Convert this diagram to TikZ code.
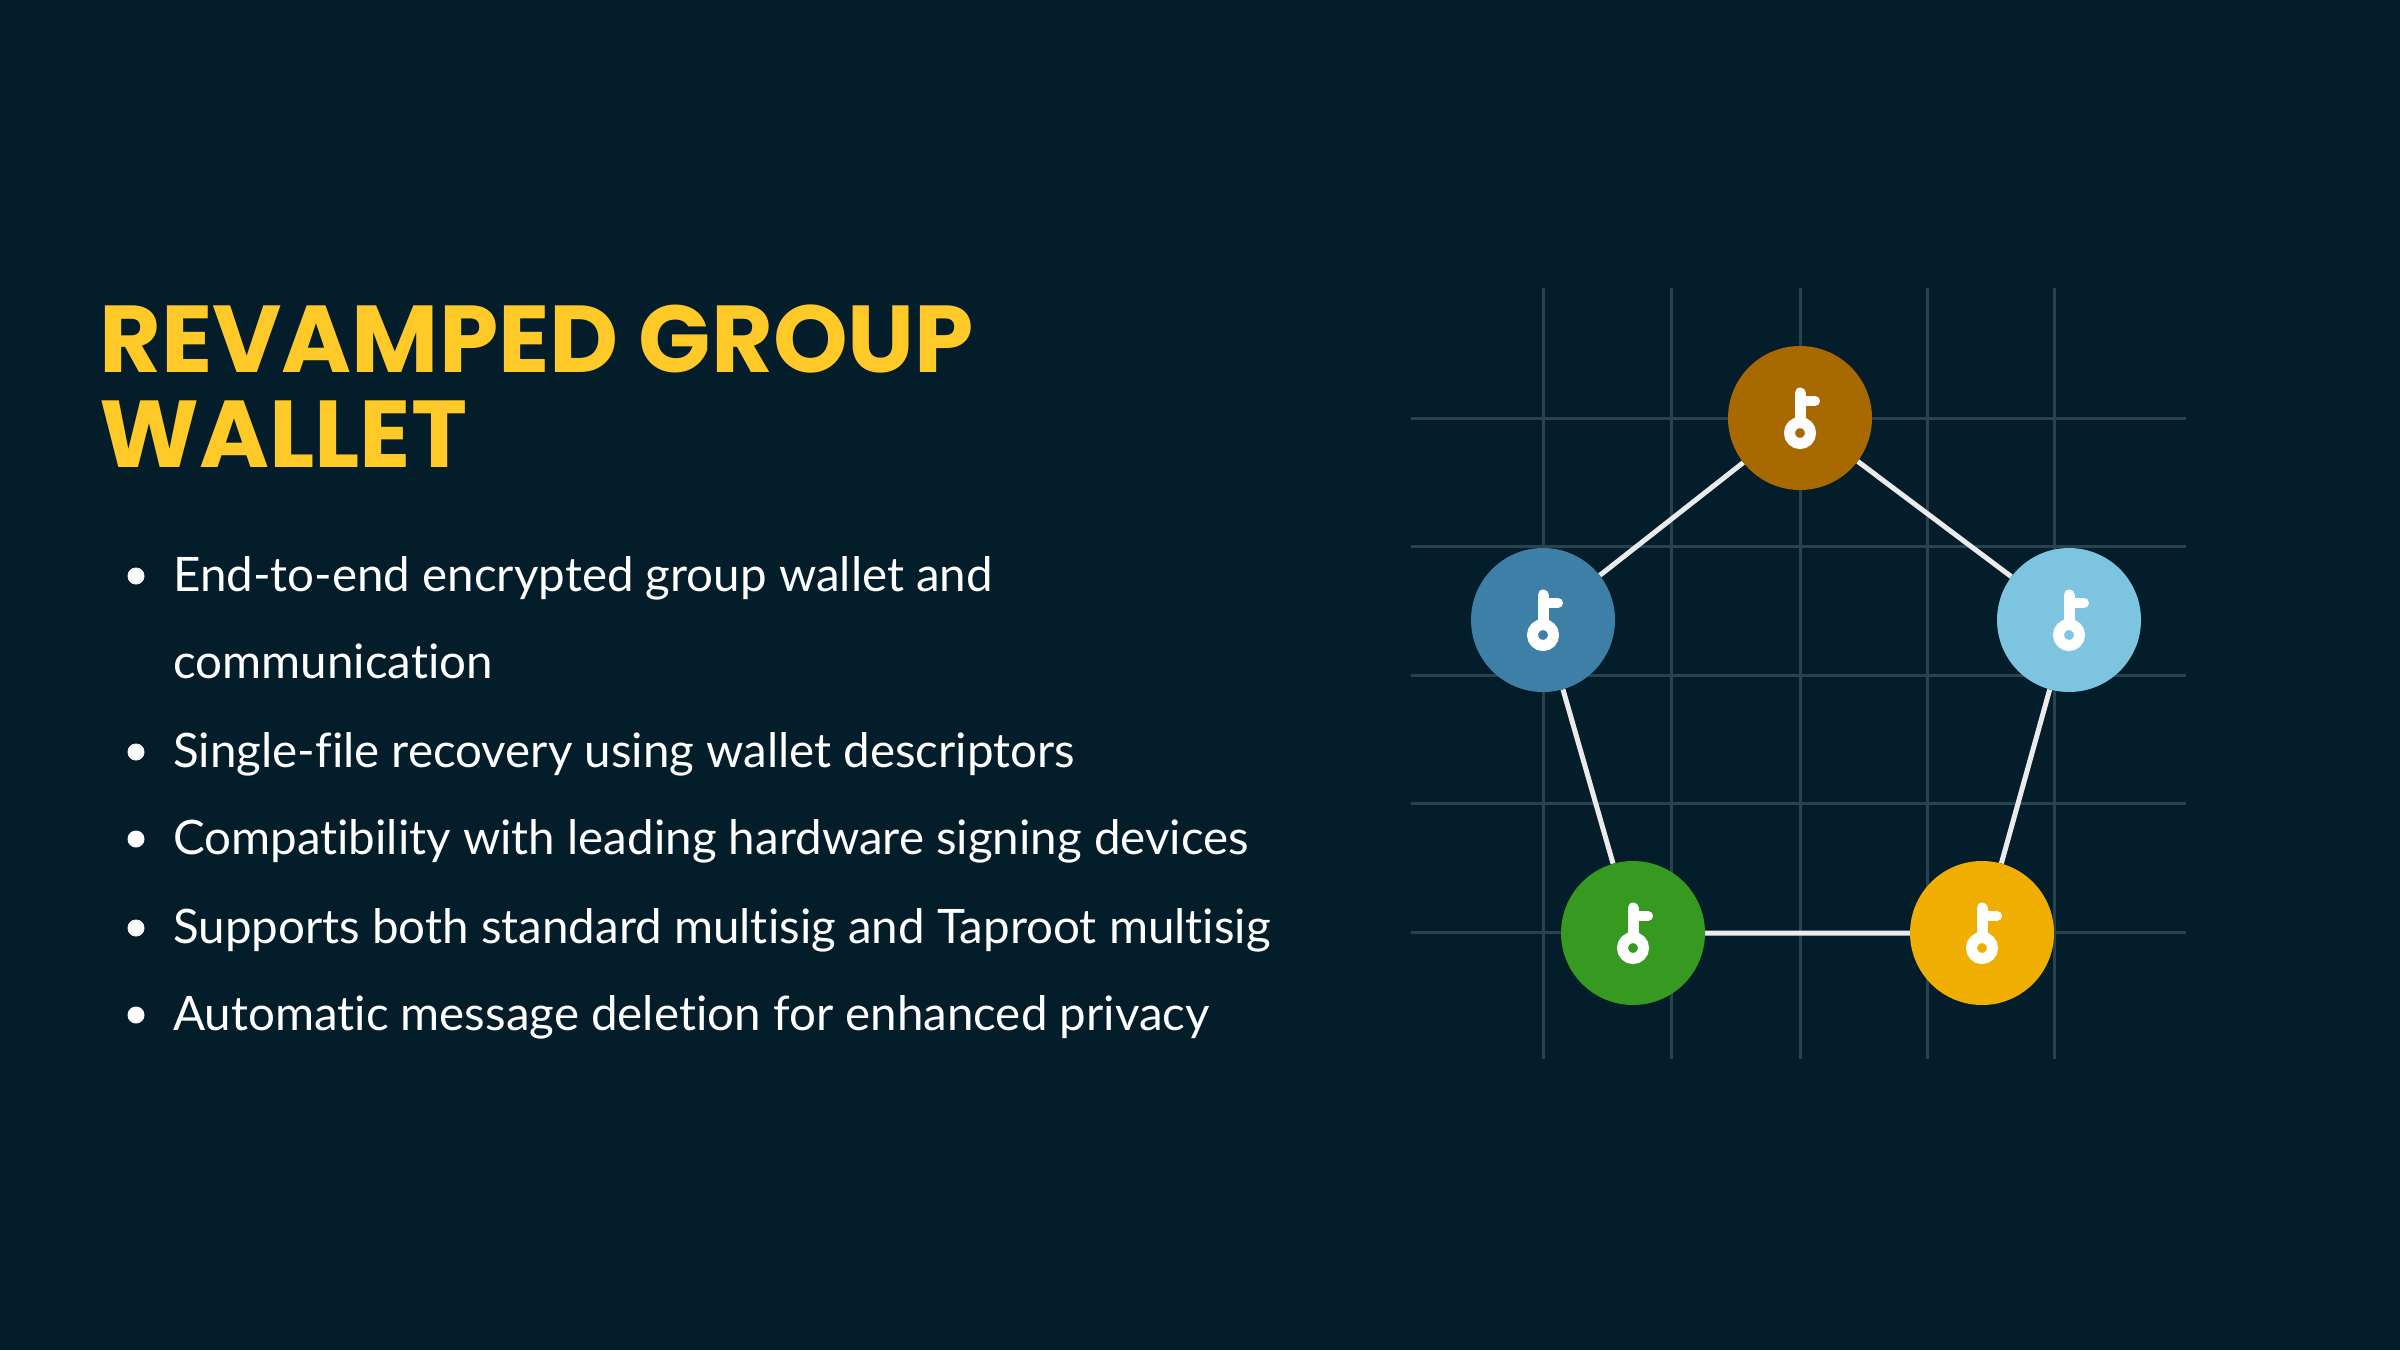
\documentclass[tikz,border=0pt]{standalone}
\usepackage{fontspec}
\setmainfont{Lato}[Ligatures=NoCommon]
\newfontfamily\titlefont{Poppins}
\definecolor{bg}{HTML}{031D2A}
\definecolor{gridc}{HTML}{28434D}
\definecolor{ttl}{HTML}{FFC928}
\definecolor{cA}{HTML}{A86A00}
\definecolor{cB}{HTML}{3D7FA6}
\definecolor{cC}{HTML}{7CC4DF}
\definecolor{cD}{HTML}{359A1F}
\definecolor{cE}{HTML}{F0AE00}
\tikzset{
 keynode/.style={circle,minimum size=144pt,inner sep=0pt},
 bul/.style={anchor=base west,inner sep=0pt,text=white,font=\fontsize{47.5}{52}\selectfont},
 dotb/.style={circle,fill=white,minimum size=17pt,inner sep=0pt},
 edge/.style={draw=white!92!black,line width=5pt},
 gl/.style={draw=gridc,line width=3pt}
}
\newcommand{\keyicon}[1]{%
 \draw[white,line width=11pt] ($(#1)+(0,15)$) circle (10.5pt);
 \draw[white,line width=11pt,line cap=round] ($(#1)+(0,-1)$) -- ($(#1)+(0,-25)$);
 \draw[white,line width=10pt,line cap=round] ($(#1)+(0,-17)$) -- ($(#1)+(15,-17)$);
}
\usetikzlibrary{calc}
\begin{document}
\begin{tikzpicture}[x=1pt,y=-1pt]
\fill[bg] (0,0) rectangle (2400,1350);
\useasboundingbox (0,0) rectangle (2400,1350);
\foreach \x in {1543,1671,1800,1927,2054} \draw[gl] (\x,288) -- (\x,1059);
\foreach \y in {418,546,675,803,932} \draw[gl] (1411,\y) -- (2186,\y);
\node[keynode] (a) at (1800,418) {};
\node[keynode] (b) at (1543,620) {};
\node[keynode] (c) at (2069,620) {};
\node[keynode] (d) at (1633,933) {};
\node[keynode] (e) at (1982,933) {};
\draw[edge] (a) -- (b) (a) -- (c) (b) -- (d) (c) -- (e) (d) -- (e);
\fill[cA] (a) circle (72pt); \fill[cB] (b) circle (72pt); \fill[cC] (c) circle (72pt);
\fill[cD] (d) circle (72pt); \fill[cE] (e) circle (72pt);
\keyicon{a}\keyicon{b}\keyicon{c}\keyicon{d}\keyicon{e}
\node[anchor=base west,inner sep=0pt,text=ttl,font=\titlefont\bfseries\fontsize{95}{96}\selectfont] (t1) at (99,372) {REVAMPED GROUP};
\node[anchor=base west,inner sep=0pt,text=ttl,font=\titlefont\bfseries\fontsize{95}{96}\selectfont] (t2) at (99,467) {WALLET};
\node[bul] (l1) at (173,591) {End-to-end encrypted group wallet and};
\node[bul] (l1b) at (173,678) {communication};
\node[bul] (l2) at (173,767) {Single-file recovery using wallet descriptors};
\node[bul] (l3) at (173,854) {Compatibility with leading hardware signing devices};
\node[bul] (l4) at (173,943) {Supports both standard multisig and Taproot multisig};
\node[bul] (l5) at (173,1030) {Automatic message deletion for enhanced privacy};
\foreach \n in {l1,l2,l3,l4,l5} \node[dotb] at ($(\n.base west)+(-37,-15)$) {};
\end{tikzpicture}
\end{document}
